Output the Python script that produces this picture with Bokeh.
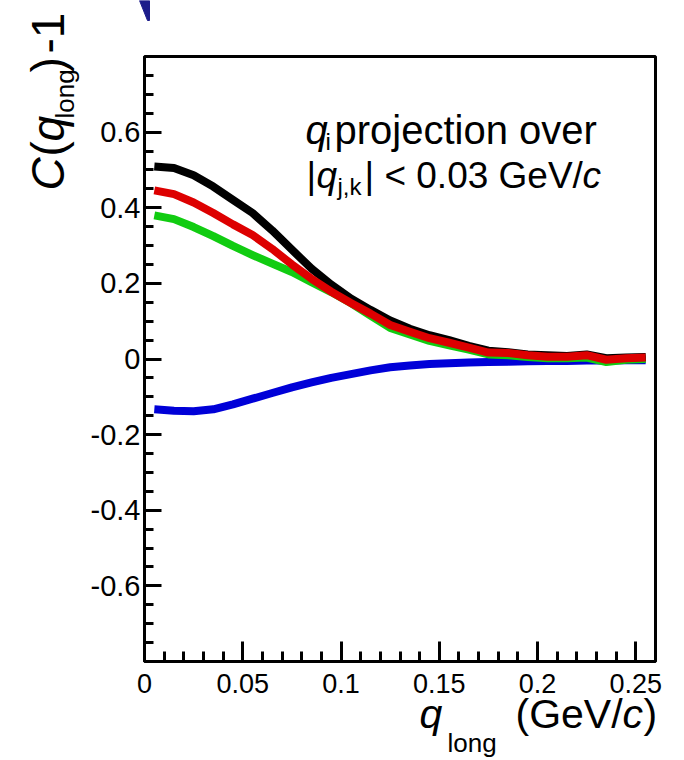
import numpy as np
from bokeh.plotting import figure
from bokeh.models import Label, FixedTicker, GridBox
from bokeh.embed import file_html
from bokeh.resources import INLINE

# ---------------- data ----------------
q_long = [0.005, 0.015, 0.025, 0.035, 0.045, 0.055, 0.065, 0.075, 0.085, 0.095,
          0.105, 0.115, 0.125, 0.135, 0.145, 0.155, 0.165, 0.175, 0.185, 0.195,
          0.205, 0.215, 0.225, 0.235, 0.245, 0.255]
c_black = [0.509, 0.505, 0.486, 0.456, 0.421, 0.386, 0.340, 0.289, 0.239, 0.197,
           0.160, 0.130, 0.102, 0.080, 0.063, 0.050, 0.035, 0.022, 0.018, 0.012,
           0.010, 0.008, 0.012, 0.002, 0.004, 0.005]
c_red = [0.446, 0.436, 0.414, 0.386, 0.356, 0.328, 0.291, 0.250, 0.212, 0.178,
         0.148, 0.120, 0.090, 0.072, 0.055, 0.043, 0.030, 0.017, 0.016, 0.010,
         0.006, 0.006, 0.010, -0.002, 0.002, 0.004]
c_green = [0.380, 0.370, 0.349, 0.325, 0.299, 0.275, 0.252, 0.230, 0.203, 0.177,
           0.148, 0.115, 0.082, 0.065, 0.048, 0.036, 0.025, 0.012, 0.010, 0.005,
           0.002, 0.002, 0.004, -0.008, -0.002, 0.000]
c_blue = [-0.133, -0.137, -0.138, -0.133, -0.120, -0.105, -0.090, -0.075, -0.062, -0.050,
          -0.040, -0.030, -0.022, -0.017, -0.013, -0.011, -0.009, -0.008, -0.007, -0.006,
          -0.005, -0.005, -0.004, -0.004, -0.003, -0.003]

x_ticks = [0, 0.05, 0.1, 0.15, 0.2, 0.25]
x_tick_labels = ["0", "0.05", "0.1", "0.15", "0.2", "0.25"]
y_ticks = [-0.6, -0.4, -0.2, 0, 0.2, 0.4, 0.6]
y_tick_labels = ["-0.6", "-0.4", "-0.2", "0", "0.2", "0.4", "0.6"]

# cropped fragment of a neighbouring graphic at the top edge (pixels)
frag_x = [139, 149, 149, 147]
frag_y = [0, 0, 20, 20]

X_MIN, X_MAX = 0.0, 0.26
Y_MIN, Y_MAX = -0.8, 0.8

# ---------------- layout ----------------
W, H = 684, 760
ML, MR, MT, MB = 144, 29, 56, 99
FONT = "Liberation Sans"

fig = figure(width=W, height=H, x_range=(X_MIN, X_MAX), y_range=(Y_MIN, Y_MAX),
             output_backend="svg", toolbar_location=None,
             min_border_left=ML, min_border_right=MR, min_border_top=MT, min_border_bottom=MB)
fig.background_fill_color = "white"
fig.border_fill_color = "white"
fig.outline_line_color = "black"
fig.outline_line_width = 3
fig.xgrid.visible = False
fig.ygrid.visible = False

# axes
xa = fig.xaxis[0]
xa.ticker = FixedTicker(ticks=x_ticks, minor_ticks=list(np.round(np.arange(0, 0.2601, 0.01), 3)))
xa.major_label_overrides = {t: s for t, s in zip(x_ticks, x_tick_labels)}
xa.major_tick_in = 20
xa.major_tick_out = 0
xa.minor_tick_in = 10
xa.minor_tick_out = 0
xa.axis_line_width = 3
xa.major_tick_line_width = 3
xa.minor_tick_line_width = 3
xa.major_label_text_font = FONT
xa.major_label_text_font_size = "27px"
xa.major_label_text_color = "black"
xa.major_label_standoff = 12

ya = fig.yaxis[0]
ya.ticker = FixedTicker(ticks=y_ticks, minor_ticks=list(np.round(np.arange(-0.75, 0.7501, 0.05), 3)))
ya.major_label_overrides = {t: s for t, s in zip(y_ticks, y_tick_labels)}
ya.major_tick_in = 17
ya.major_tick_out = 0
ya.minor_tick_in = 9
ya.minor_tick_out = 0
ya.axis_line_width = 3
ya.major_tick_line_width = 3
ya.minor_tick_line_width = 3
ya.major_label_text_font = FONT
ya.major_label_text_font_size = "29px"
ya.major_label_text_color = "black"
ya.major_label_standoff = 4

# curves
LW = 8
fig.line(q_long, c_blue, line_color="#0000d8", line_width=LW, line_join="round")
fig.line(q_long, c_green, line_color="#11cc11", line_width=LW, line_join="round")
fig.line(q_long, c_black, line_color="#000000", line_width=LW, line_join="round")
fig.line(q_long, c_red, line_color="#dd0000", line_width=LW, line_join="round")

# ---------------- transparent text overlay (pixel coordinates) ----------------
ov = figure(width=W, height=H, x_range=(0, W), y_range=(H, 0),
            output_backend="svg", toolbar_location=None,
            x_axis_type=None, y_axis_type=None, min_border=0)
ov.outline_line_color = None
ov.background_fill_alpha = 0
ov.border_fill_alpha = 0
for f in (fig, ov):
    if "frame_align" in f.properties():
        f.frame_align = False

ov.patch(frag_x, frag_y, fill_color="#1c1c8a", line_color="#1c1c8a")

def lab(text, px, py, size, italic=False, angle=0.0):
    ov.add_layout(Label(x=px, y=py, text=text, angle=angle,
                        text_font=FONT, text_font_size=f"{size}px",
                        text_font_style="italic" if italic else "normal",
                        text_color="black", text_align="left", text_baseline="alphabetic"))

# legend text
lab("q", 305, 129, 40, italic=True)
lab("i", 325, 141, 24)
lab("projection over", 334, 129, 40)
lab("|", 306, 175, 37)
lab("q", 316, 175, 37, italic=True)
lab("j,k", 337, 186, 24)
lab("| < 0.03 GeV/", 364, 175, 37)
lab("c", 582, 175, 37, italic=True)

# x axis title
XS = 41
lab("q", 419, 713, XS, italic=True)
lab("long", 447, 742, 26)
lab("(GeV/", 515, 713, XS)
lab("c", 622, 713, XS, italic=True)
lab(")", 643, 713, XS)

# y axis title (rotated)
YS = 46
A = np.pi / 2
lab("C", 47, 190, YS, italic=True, angle=A)
lab("(", 47, 156, YS, angle=A)
lab("q", 47, 141, YS, italic=True, angle=A)
lab("long", 64, 118, 26, angle=A)
lab(")", 47, 72, YS, angle=A)
lab("-1", 47, 53, YS, angle=A)

p = GridBox(children=[(fig, 0, 0), (ov, 0, 0)])

open("out.html", "w").write(file_html(p, INLINE))
